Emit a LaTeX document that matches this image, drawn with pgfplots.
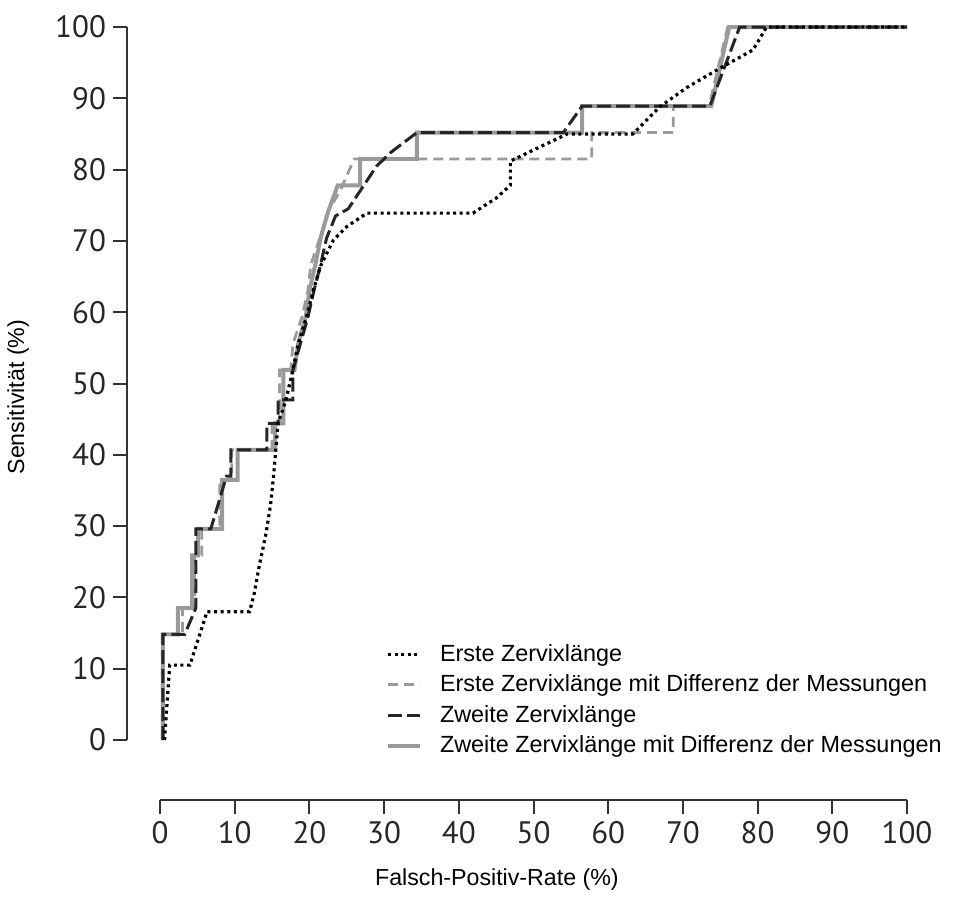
\documentclass[border=0pt]{standalone}
\usepackage{pgfplots}
\pgfplotsset{compat=1.18}
\usepackage{fontspec}
\setmainfont{Liberation Sans}
\newfontfamily\tickfont{PT Sans}
\definecolor{lgray}{HTML}{9A9A9A}
\definecolor{axgray}{HTML}{333333}
\begin{document}
\begin{tikzpicture}
\begin{axis}[
  scale only axis, width=390pt, height=386.5pt,
  xmin=-4.42, xmax=100, ymin=-8.42, ymax=100,
  axis x line*=bottom, axis y line*=left,
  axis line style={draw=none},
  xtick={0,10,...,100}, ytick={0,10,...,100},
  tick align=outside, major tick length=7pt,
  tick style={axgray, line width=1pt},
  ticklabel style={font=\tickfont\fontsize{15.5}{16}\selectfont, text=black!85},
  /pgf/number format/assume math mode=true,
  clip=false,
  legend style={at={(axis cs:29.4,14.6)}, anchor=north west, draw=none, fill=none,
    font=\fontsize{11.7}{13}\selectfont, row sep=1.3pt, cells={anchor=west}},
  legend cell align=left,
  legend image code/.code={\draw[#1] (0pt,0pt) -- (16pt,0pt); \path (23pt,0pt);},
]
\addlegendimage{black, line width=1.6pt, dash pattern=on 1.5pt off 1.8pt}
\addlegendentry{Erste Zervixlänge}
\addlegendimage{lgray, line width=1.4pt, dash pattern=on 5pt off 3pt}
\addlegendentry{Erste Zervixlänge mit Differenz der Messungen}
\addlegendimage{black!85, line width=1.5pt, dash pattern=on 7pt off 2.5pt}
\addlegendentry{Zweite Zervixlänge}
\addlegendimage{lgray, line width=2pt}
\addlegendentry{Zweite Zervixlänge mit Differenz der Messungen}

% Zweite Zervixlaenge mit Differenz (gray solid)
\addplot[forget plot, lgray, line width=2pt] coordinates {
(0.4,0) (0.4,14.8) (2.4,14.8) (2.4,18.5) (4.3,18.5) (4.3,25.9) (5.1,25.9) (5.1,29.6)
(8.3,29.6) (8.3,36.5) (10.4,36.5) (10.4,40.7) (15.4,40.7) (15.4,44.4) (16.5,44.4)
(16.5,51.9) (18,51.9) (18.5,55.6) (19.5,59.3) (20,63) (20.8,66.7) (21.5,70.4)
(22.5,74.1) (23.8,77.8) (26.8,77.8) (26.8,81.5) (34.4,81.5) (34.4,85.2) (56.5,85.2)
(56.5,88.9) (73.8,88.9) (76.2,100) (100,100)};

% Erste Zervixlaenge mit Differenz (gray dashed)
\addplot[forget plot, lgray, line width=1.4pt, dash pattern=on 5pt off 3pt] coordinates {
(0.3,0) (0.3,14.8) (3,14.8) (3,18.5) (4.6,18.5) (4.6,25.9) (5.6,25.9) (5.6,29.6)
(8,29.6) (8,36.5) (9.6,36.5) (9.6,40.7) (15,40.7) (15,44.4) (16,44.4) (16,51.9)
(17.5,51.9) (17.8,55.6) (19,59.3) (19.8,63) (20.2,66.7) (21.4,70.4) (22.5,74.1)
(24.1,77) (26,81.5) (57.8,81.5) (57.8,85.2) (68.7,85.2) (68.7,88.9) (73.5,88.9)
(76,100) (100,100)};

% Zweite Zervixlaenge (black long dash)
\addplot[forget plot, black!85, line width=1.5pt, dash pattern=on 7pt off 2.5pt] coordinates {
(0.4,0) (0.4,14.8) (3.3,14.8) (4.8,18.5) (4.8,29.6) (6.8,29.6) (8.9,37) (9.5,37)
(9.5,40.7) (14.3,40.7) (14.3,44.4) (15.8,44.4) (15.8,47.7) (17.8,47.7) (17.8,51.9)
(18.8,55.6) (19.8,59.3) (20.6,63) (21.5,66.7) (22.3,70.4) (23.5,73.5) (25.2,74.5)
(29,80.5) (31,82.5) (34.4,85.2) (54,85.2) (56.5,88.9) (73.6,88.9) (77.6,100) (100,100)};

% Erste Zervixlaenge (dotted)
\addplot[forget plot, black, line width=1.6pt, dash pattern=on 1.5pt off 1.8pt] coordinates {
(0.6,0) (1.3,10.5) (4.0,10.5) (6.3,18) (12,18) (12.6,20.5) (13.3,24.5) (14.2,29)
(14.8,33) (15.2,37) (15.5,40.7) (15.8,44.4) (16.8,47.5) (17.6,51) (18.5,55.6)
(19.6,59.3) (20.5,63) (21.5,66.5) (23.2,70.1) (25,72) (27.7,73.9) (41.9,73.9)
(45,76) (46.9,77.8) (46.9,81.2) (50.5,83) (54.5,85.0) (63.3,85.0) (66.9,88.8)
(70.5,91.5) (74.6,94) (79.4,96.8) (81.2,100) (100,100)};

\draw[axgray, line width=1pt] (axis cs:0,-8.42) -- (axis cs:100,-8.42);
\draw[axgray, line width=1pt] (axis cs:-4.42,0) -- (axis cs:-4.42,100);

\node[rotate=90, font=\fontsize{11.6}{13}\selectfont] at (axis cs:-19.0,48.1) {Sensitivität (\%)};
\node[font=\fontsize{11.6}{13}\selectfont] at (axis cs:45.1,-19.6) {Falsch-Positiv-Rate (\%)};

\coordinate (bl) at (axis cs:-21.42,-22.58);
\coordinate (tr) at (axis cs:106.96,103.79);
\end{axis}
\pgfresetboundingbox
\path[use as bounding box] (bl) rectangle (tr);
\end{tikzpicture}
\end{document}
